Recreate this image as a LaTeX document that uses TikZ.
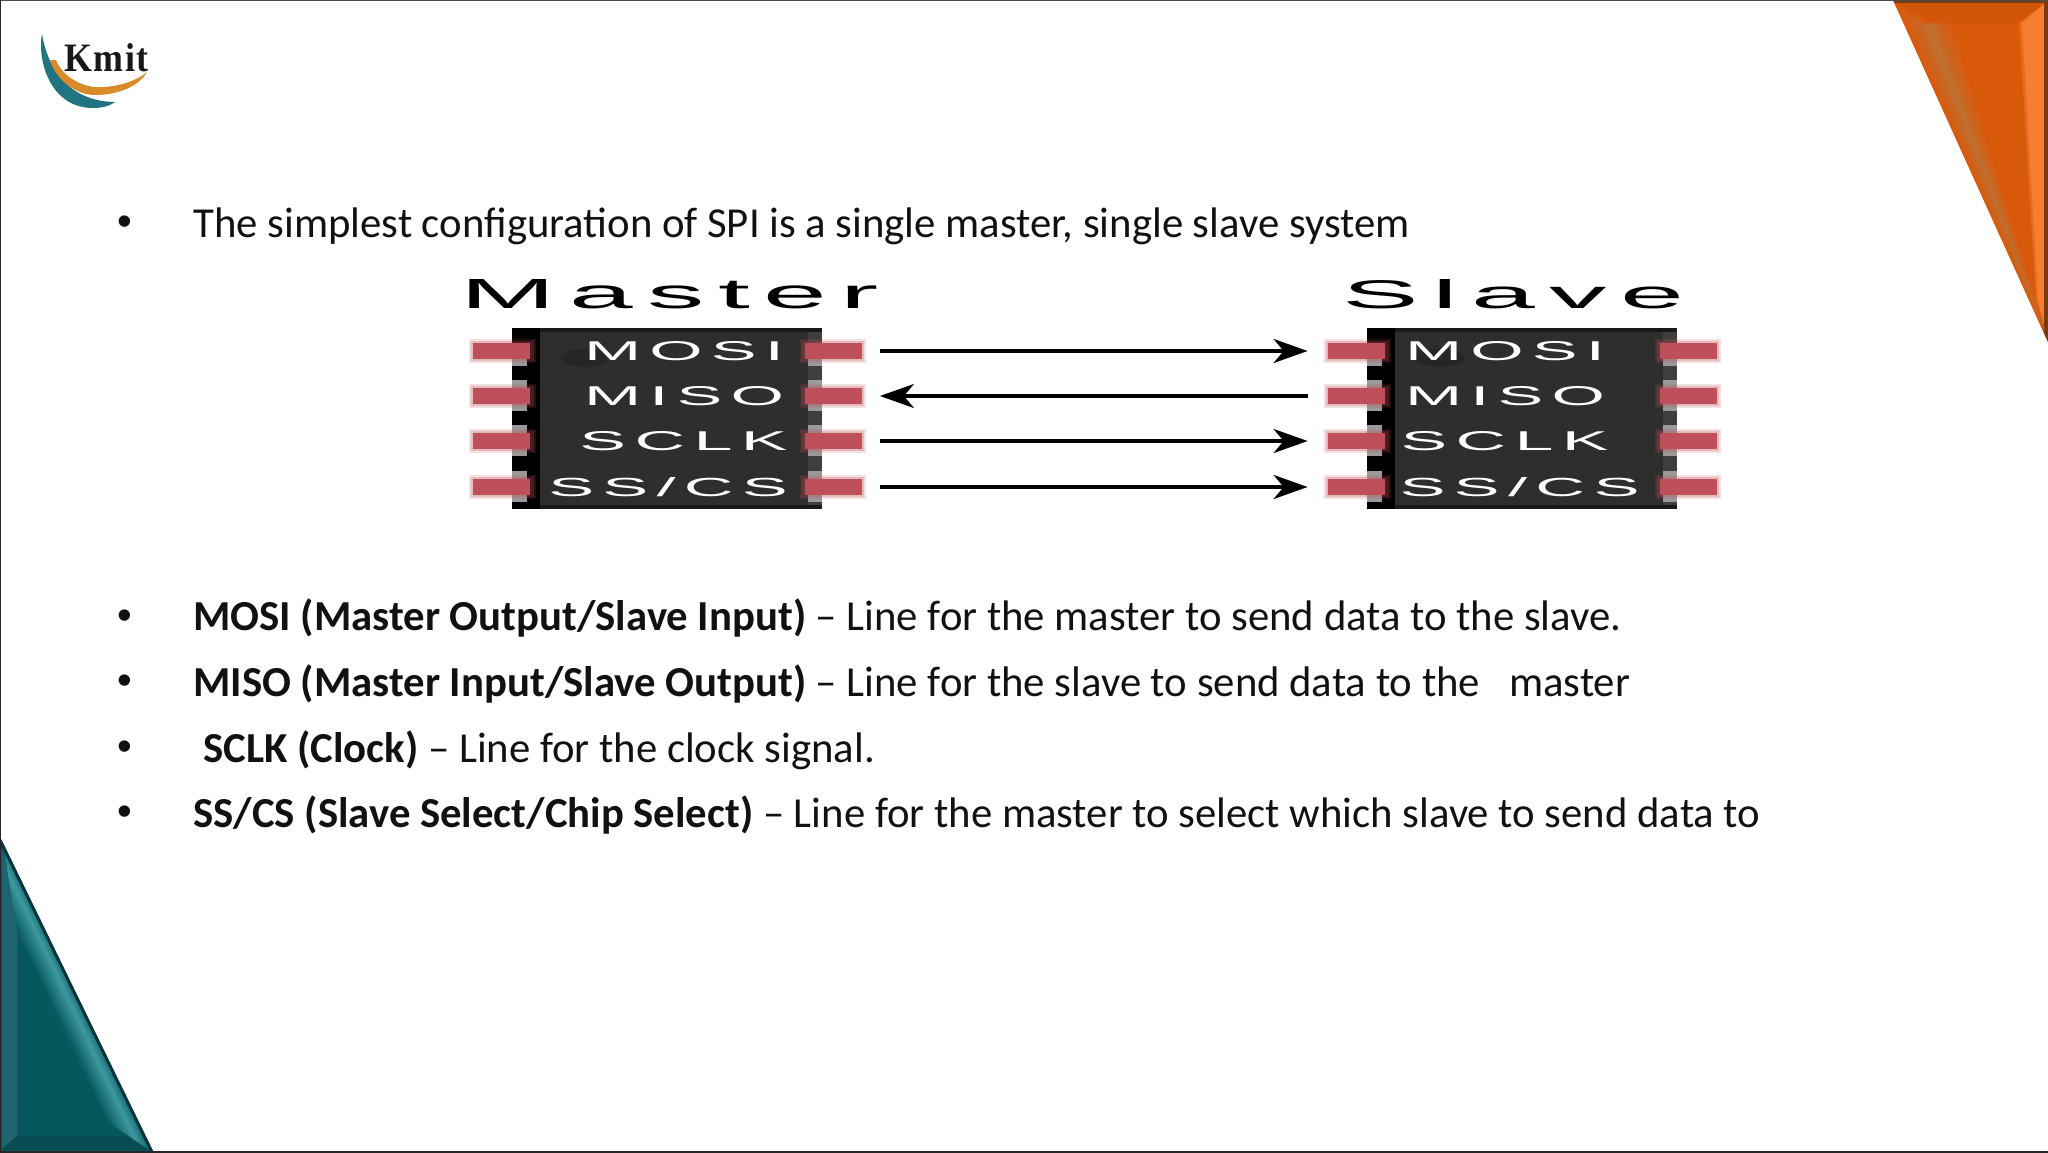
\documentclass[tikz,border=0pt]{standalone}
\usepackage{fontspec}
\usepackage{graphicx}
\setmainfont{Carlito}
\newfontfamily\chipfont{Liberation Sans}[LetterSpace=12]
\newfontfamily\bulletfont{Liberation Sans}
\newfontfamily\logofont{Liberation Serif}[LetterSpace=4]
\usetikzlibrary{arrows.meta,calc}
\definecolor{bodytext}{HTML}{111111}
\definecolor{chipbody}{HTML}{2E2E2E}
\definecolor{chipedge}{HTML}{3E3E3E}
\definecolor{pinred}{HTML}{BF4F58}
\definecolor{tabgrey}{HTML}{9A9A9A}
\definecolor{orangemain}{HTML}{D9590B}
\definecolor{orangetop}{HTML}{D25608}
\definecolor{orangelight}{HTML}{F57E30}
\definecolor{orangegrey}{HTML}{BF7030}
\definecolor{orangedark}{HTML}{7A3A10}
\definecolor{tealmain}{HTML}{07575F}
\definecolor{teallight}{HTML}{3F9AA0}
\definecolor{tealdark}{HTML}{06343C}
\definecolor{tealband}{HTML}{1F6570}
\definecolor{tealfoot}{HTML}{064A52}
\definecolor{logoorange}{HTML}{DB8A2A}
\definecolor{logoteal}{HTML}{1F7480}
\newcommand\fitted[3]{\resizebox{#1pt}{#2pt}{\chipfont #3}}
\newcommand\slidefont{\fontsize{21.37}{26}\selectfont}
\tikzset{
  px/.style={x=.5pt,y=-.5pt},
  line/.style={anchor=base west,inner sep=0pt,text=bodytext,font=\slidefont},
  bullet/.style={anchor=base,inner sep=0pt,text=bodytext,font=\bulletfont\fontsize{21}{24}\selectfont},
  pin/.style={inner sep=0pt,minimum width=28.5pt,minimum height=8pt,fill=pinred},
  chiplabel/.style={inner sep=0pt,text=white},
  title/.style={inner sep=0pt,text=black},
  wire/.style={line width=1.7pt,draw=black,-{Stealth[length=17pt,width=12pt,inset=5pt]}},
}
\begin{document}
\begin{tikzpicture}[px]
\useasboundingbox (0,0) rectangle (2048,1152);
\fill[white] (0,0) rectangle (2048,1152);

% logo
\fill[logoteal] (42,34) .. controls (37,60) and (50,108) .. (93,108) .. controls (102,108) and (110,106) .. (115,102)
  .. controls (92,102) and (52,92) .. (42,34) -- cycle;
\fill[logoorange] (50,60) .. controls (56,80) and (76,95) .. (95,95) .. controls (120,95) and (140,85) .. (147,72)
  .. controls (135,82) and (115,88) .. (94,87) .. controls (78,85) and (62,75) .. (56,60) -- cycle;
\node[inner sep=0pt,text=black!90,anchor=south west] (logo) at (64,72) {\resizebox{42pt}{14pt}{\logofont\bfseries Kmit}};

% orange corner
\begin{scope}
\clip (1893,0) -- (2048,0) -- (2048,342) -- cycle;
\fill[orangemain] (1893,0) -- (2048,0) -- (2048,342) -- cycle;
\coordinate (oa) at (1893,2);
\coordinate (ob) at (2046,338);
\coordinate (oc) at (1950,20);
\coordinate (od) at (2035,300);
\foreach \i in {0,...,15}{
  \pgfmathsetmacro\ta{\i/16}
  \pgfmathsetmacro\tb{(\i+1.2)/16}
  \pgfmathsetmacro\mix{\ta<.5 ? 100*\ta/.5 : 100*(1-\ta)/.5}
  \fill[orangegrey!\mix!orangemain] ($(oa)!\ta!(oc)$) -- ($(oa)!\tb!(oc)$) -- ($(ob)!\tb!(od)$) -- ($(ob)!\ta!(od)$) -- cycle;
}
\fill[orangemain] (1893,2) -- (1920,3) -- (1950,20) -- (1925,24) -- cycle;
\fill[orangetop] (1895,2) -- (2044,2) -- (2022,23) -- (1935,23) -- cycle;
\fill[orangelight!50!orangemain] (2044,4) -- (2019,23) -- (2036,300) -- (2044,325) -- cycle;
\fill[orangelight] (2044,4) -- (2022,23) -- (2038,300) -- (2044,325) -- cycle;
\fill[orangedark] (2044,0) rectangle (2048,342);
\fill[orangedark] (1892,0) rectangle (2048,3);
\end{scope}

% teal corner
\fill[tealmain] (0,840) -- (152,1152) -- (0,1152) -- cycle;
\fill[tealband] (2,850) -- (17,905) -- (17,1136) -- (2,1148) -- cycle;
\fill[tealfoot] (2,1150) -- (17,1136) -- (125,1136) -- (148,1150) -- cycle;
\coordinate (ta) at (3,843);
\coordinate (tb) at (150,1150);
\coordinate (tc) at (17,930);
\coordinate (td) at (108,1122);
\foreach \i in {0,...,15}{
  \pgfmathsetmacro\ta{\i/16}
  \pgfmathsetmacro\tb{(\i+1.2)/16}
  \pgfmathsetmacro\mix{\ta<.3 ? 40+60*\ta/.3 : 100*(1-\ta)/.7}
  \fill[teallight!\mix!tealmain] ($(ta)!\ta!(tc)$) -- ($(ta)!\tb!(tc)$) -- ($(tb)!\tb!(td)$) -- ($(tb)!\ta!(td)$) -- cycle;
}
\draw[tealdark,line width=1.5pt] (0,840) -- (152,1152);

% frame
\draw[black!70,line width=1.2pt] (0,0) -- (2048,0);
\draw[black!85,line width=1.2pt] (0,0) -- (0,1152) -- (2048,1152);

% text
\node[bullet] (b0) at (125,235.4) {•};
\node[line] (t0) at (193,237.3) {The simplest configuration of SPI is a single master, single slave system};
\node[bullet] (b1) at (125,629.7) {•};
\node[line] (t1) at (193,630.3) {\textbf{MOSI (Master Output/Slave Input)} – Line for the master to send data to the slave.};
\node[bullet] (b2) at (125,694.7) {•};
\node[line] (t2) at (193,696.3) {\textbf{MISO (Master Input/Slave Output)} – Line for the slave to send data to the\ \ \ master};
\node[bullet] (b3) at (125,760.7) {•};
\node[line] (t3) at (203,762) {\textbf{SCLK (Clock)} – Line for the clock signal.};
\node[bullet] (b4) at (125,825.7) {•};
\node[line] (t4) at (193,827.5) {\textbf{SS/CS (Slave Select/Chip Select)} – Line for the master to select which slave to send data to};

% chips
\foreach \pre/\off in {m/0,s/855}{
  \begin{scope}[xshift=\off*.5pt]
    \fill[chipbody] (512,328) rectangle (822,509);
    \fill[black] (512,328) rectangle (540,509);
    \fill[black!90] (540,328) rectangle (822,332);
    \fill[black!90] (540,505) rectangle (822,509);
    \fill[chipedge] (808,332) rectangle (822,505);
    \fill[black!85] (585,358) ellipse [x radius=24,y radius=9];
    % grey tabs
    \fill[tabgrey] (512,351) rectangle (527,366);
    \fill[tabgrey] (808,351) rectangle (822,366);
    \foreach \yy in {396,441,487}{
      \fill[tabgrey] (512,\yy-16) rectangle (527,\yy+15);
      \fill[tabgrey] (808,\yy-16) rectangle (822,\yy+15);
    }
    % pin glow
    \foreach \yy in {351,396,441,487}{
      \fill[pinred,opacity=.18] (469,\yy-12) rectangle (536,\yy+12);
      \fill[pinred,opacity=.25] (471,\yy-10) rectangle (534,\yy+10);
      \fill[pinred,opacity=.18] (800,\yy-12) rectangle (866,\yy+12);
      \fill[pinred,opacity=.25] (802,\yy-10) rectangle (864,\yy+10);
    }
  \end{scope}
  \foreach \n/\yy in {1/351,2/396,3/441,4/487}{
    \pgfmathsetmacro\lx{501.5+\off}
    \pgfmathsetmacro\rx{833+\off}
    \node[pin] (\pre l\n) at (\lx,\yy) {};
    \node[pin] (\pre r\n) at (\rx,\yy) {};
  }
}

% labels
\node[title] (mt) at (670,294.5) {\fitted{209}{14.5}{Master}};
\node[title] (st) at (1513,294.5) {\fitted{171}{14.5}{Slave}};
\node[chiplabel] (m1) at (684,351) {\fitted{100}{9.5}{MOSI}};
\node[chiplabel] (m2) at (684,396) {\fitted{100}{9.5}{MISO}};
\node[chiplabel] (m3) at (683.5,441) {\fitted{104}{9.5}{SCLK}};
\node[chiplabel] (m4) at (668,487) {\fitted{119.7}{9.5}{SS/CS}};
\node[chiplabel] (s1) at (1505,351) {\fitted{100}{9.5}{MOSI}};
\node[chiplabel] (s2) at (1505,396) {\fitted{100}{9.5}{MISO}};
\node[chiplabel] (s3) at (1504.5,441) {\fitted{104}{9.5}{SCLK}};
\node[chiplabel] (s4) at (1519.5,487) {\fitted{120}{9.5}{SS/CS}};

% connectors
\draw[wire,shorten <=9pt,shorten >=10pt] (mr1) -- (sl1);
\draw[wire,shorten <=10pt,shorten >=9pt] (sl2) -- (mr2);
\draw[wire,shorten <=9pt,shorten >=10pt] (mr3) -- (sl3);
\draw[wire,shorten <=9pt,shorten >=10pt] (mr4) -- (sl4);
\end{tikzpicture}
\end{document}
